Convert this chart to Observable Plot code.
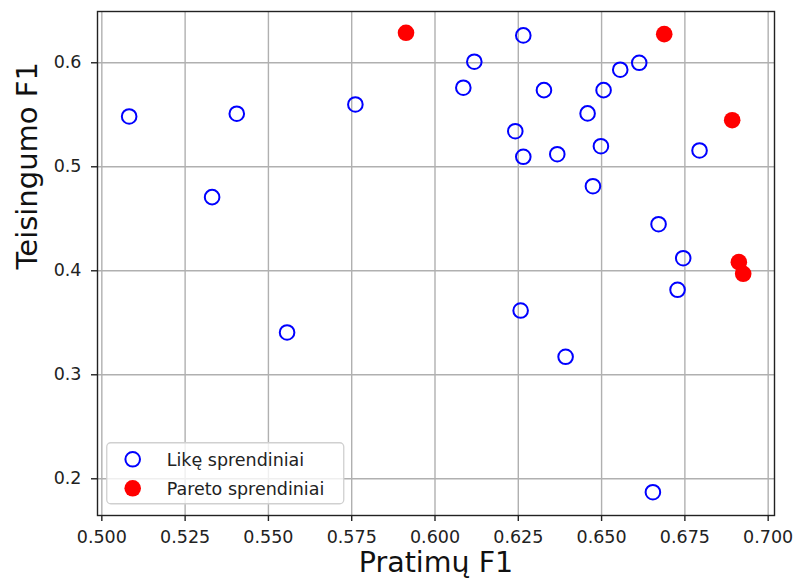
<!DOCTYPE html>
<html>
<head>
<meta charset="utf-8">
<script src="https://cdn.jsdelivr.net/npm/d3@7"></script>
<script src="https://cdn.jsdelivr.net/npm/@observablehq/plot@0.6"></script>
<style>
  html, body { margin: 0; padding: 0; background: #fff; }
  #wrap { position: relative; width: 794px; height: 579px; font-family: "DejaVu Sans", sans-serif; }
  #legend { position: absolute; }
</style>
</head>
<body>
<div id="wrap"></div>
<script>
// ---- data ----
const likeX = [0.5082, 0.5331, 0.5405, 0.5556, 0.5761, 0.6085, 0.6118, 0.6241, 0.6257, 0.6265, 0.6265, 0.6327, 0.6367, 0.6392, 0.6458, 0.6474, 0.6498, 0.6506, 0.6556, 0.6613, 0.6654, 0.6671, 0.6728, 0.6745, 0.6794];
const likeY = [0.5484, 0.4708, 0.5510, 0.3407, 0.5599, 0.5760, 0.6010, 0.5342, 0.3618, 0.6263, 0.5096, 0.5737, 0.5121, 0.3173, 0.5513, 0.4813, 0.5198, 0.5737, 0.5933, 0.6000, 0.1871, 0.4448, 0.3817, 0.4121, 0.5157];
const paretoX = [0.5913, 0.6688, 0.6892, 0.6912, 0.6925];
const paretoY = [0.6288, 0.6275, 0.5448, 0.4083, 0.3971];

const xTicks = [0.500, 0.525, 0.550, 0.575, 0.600, 0.625, 0.650, 0.675, 0.700];
const yTicks = [0.2, 0.3, 0.4, 0.5, 0.6];
const xDomain = [0.4987, 0.7019];
const yDomain = [0.1647, 0.6493];

const xLabel = "Pratimų F1";
const yLabel = "Teisingumo F1";
const seriesNames = ["Likę sprendiniai", "Pareto sprendiniai"];
const seriesColors = ["blue", "red"];

const like = likeX.map((x, i) => ({x, y: likeY[i]}));
const pareto = paretoX.map((x, i) => ({x, y: paretoY[i]}));

const FONT = "DejaVu Sans";
const gridStyle = {stroke: "#b0b0b0", strokeOpacity: 1, strokeWidth: 1.4};

const chart = Plot.plot({
  width: 794, height: 579,
  marginLeft: 97, marginRight: 20, marginTop: 11, marginBottom: 64,
  style: {fontFamily: FONT, background: "white", color: "#222", overflow: "visible"},
  x: {domain: xDomain},
  y: {domain: yDomain},
  marks: [
    Plot.gridX(xTicks, gridStyle),
    Plot.gridY(yTicks, gridStyle),
    Plot.axisX(xTicks, {tickFormat: d3.format(".3f"), tickSize: 6, tickPadding: 9, fontSize: 17.5, label: null, stroke: "#222", strokeWidth: 1.4}),
    Plot.axisY(yTicks, {tickFormat: d3.format(".1f"), tickSize: 6, tickPadding: 10, fontSize: 17.5, label: null, stroke: "#222", strokeWidth: 1.4}),
    Plot.dot(like, {x: "x", y: "y", r: 7.3, stroke: seriesColors[0], strokeWidth: 2, fill: "none"}),
    Plot.dot(pareto, {x: "x", y: "y", r: 8.3, fill: seriesColors[1], stroke: "none"}),
    Plot.frame({stroke: "#222", strokeWidth: 1.4}),
    Plot.text([xLabel], {text: d => d, frameAnchor: "bottom", dy: 47.5, fontSize: 28.5, lineAnchor: "middle", fill: "#111"}),
    Plot.text([yLabel], {text: d => d, frameAnchor: "left", dx: -69.3, dy: 6, rotate: -90, fontSize: 29, lineAnchor: "middle", fill: "#111"})
  ]
});
document.getElementById("wrap").appendChild(chart);

// ---- legend (HTML overlay) ----
const lg = d3.select("#wrap").append("svg")
  .attr("id", "legend")
  .attr("width", 239).attr("height", 63)
  .style("left", "106px").style("top", "442px");
lg.append("rect")
  .attr("x", 0.75).attr("y", 0.75).attr("width", 237).attr("height", 61)
  .attr("rx", 4).attr("fill", "rgba(255,255,255,0.8)")
  .attr("stroke", "#d0d0d0").attr("stroke-width", 1.3);
seriesNames.forEach((name, i) => {
  const cy = 17.3 + i * 29;
  if (i === 0) {
    lg.append("circle").attr("cx", 26.7).attr("cy", cy).attr("r", 7.3)
      .attr("fill", "none").attr("stroke", seriesColors[i]).attr("stroke-width", 2);
  } else {
    lg.append("circle").attr("cx", 26.7).attr("cy", cy).attr("r", 8.3)
      .attr("fill", seriesColors[i]);
  }
  lg.append("text").attr("x", 60.7).attr("y", cy + 6.5)
    .attr("font-family", FONT).attr("font-size", 17.5).attr("fill", "#222")
    .text(name);
});
</script>
</body>
</html>
